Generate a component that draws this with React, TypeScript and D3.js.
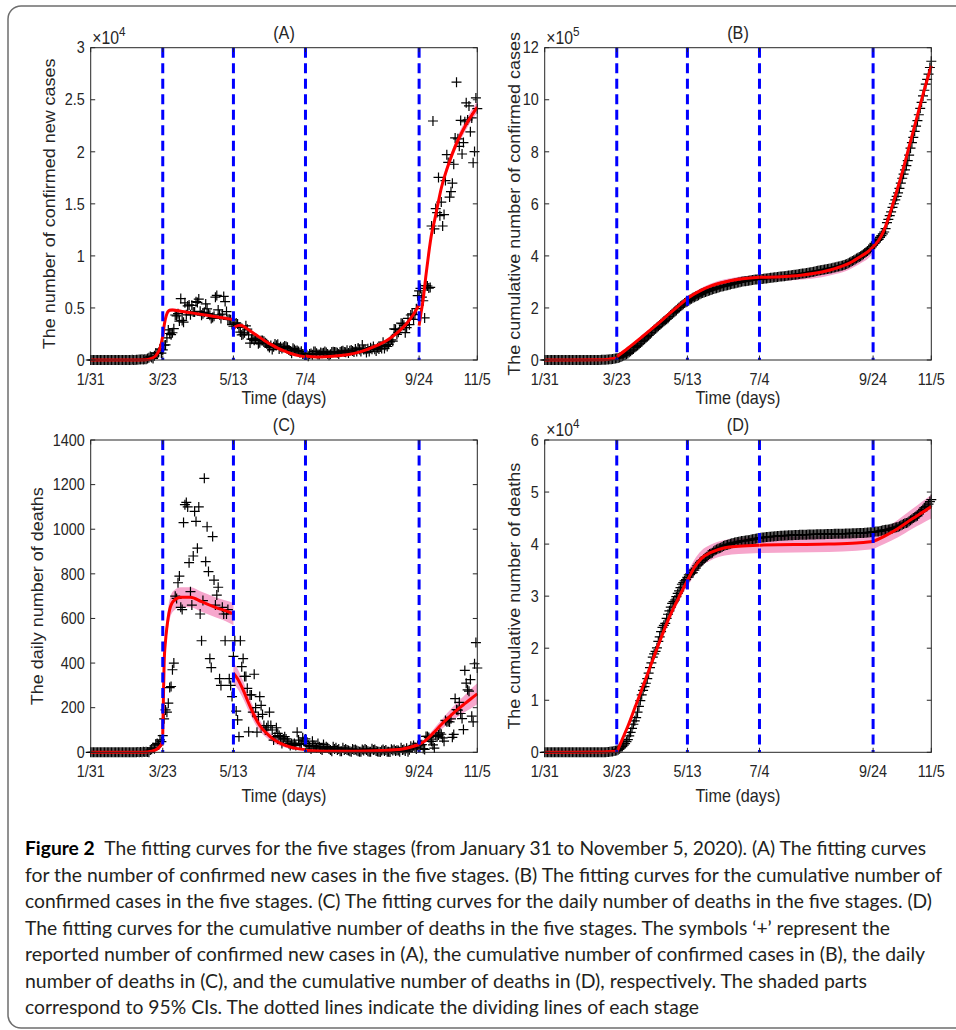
import React from 'react';
import * as d3 from 'd3';

const W = 956;
const H = 1030;
const AX_W = 386.6;
const AX_H = 312.3;
const SQ = 0.9;
const FONT = '"Liberation Sans", Arial, Helvetica, sans-serif';
const INK = '#262626';

const STAGE_DAYS = [52, 103, 155, 237];
const X_TICK_DAYS = [0, 52, 103, 155, 237, 279];
const X_TICK_LABELS = ['1/31', '3/23', '5/13', '7/4', '9/24', '11/5'];

// Reported daily confirmed new cases, day 0 = Jan 31
const dailyCases = [
  2, 0, 0, 0, 0, 0, 1, 0, 0, 0,
  4, 0, 0, 1, 0, 0, 0, 0, 0, 0,
  0, 0, 0, 0, 0, 0, 4, 0, 7, 3,
  13, 4, 11, 34, 29, 48, 45, 69, 43, 67,
  83, 134, 208, 342, 251, 152, 407, 676, 643, 714,
  1035, 665, 967, 1427, 1452, 2129, 2885, 2546, 2433, 2619,
  3009, 4324, 4244, 4450, 3735, 5903, 3802, 3634, 5491, 4344,
  5195, 5288, 4342, 5252, 4603, 4617, 5599, 5526, 5850, 4676,
  4301, 4451, 4583, 5386, 4913, 4463, 4309, 3996, 4076, 4200,
  6032, 6201, 4806, 4339, 3985, 4406, 6111, 5614, 4649, 3896,
  3923, 3877, 3403, 3242, 3446, 3560, 3451, 3142, 2684, 2412,
  2472, 2615, 3287, 2959, 2409, 1625, 2004, 2013, 1887, 2095,
  1936, 1570, 1653, 1871, 1871, 1805, 1650, 1557, 1326, 1205,
  1387, 1003, 1266, 1541, 1425, 1514, 1056, 1279, 1115, 1218,
  1346, 1295, 1221, 958, 874, 653, 1118, 1006, 890, 901,
  815, 689, 829, 576, 544, 624, 516, 352, 581, 630,
  512, 820, 820, 650, 530, 538, 726, 642, 687, 827,
  725, 580, 445, 560, 769, 798, 767, 745, 685, 581,
  763, 846, 880, 771, 744, 938, 670, 892, 950, 871,
  758, 1062, 816, 1148, 1009, 812, 1441, 1012, 1040, 713,
  1089, 812, 1182, 1033, 1288, 1041, 853, 1184, 1048, 1276,
  1108, 1715, 1108, 1406, 1295, 1508, 1735, 1940, 1813, 2988,
  2948, 2460, 2659, 2919, 3539, 3497, 3330, 2621, 3105, 3991,
  3395, 4322, 4422, 3899, 4368, 4926, 6178, 6634, 6874, 6042,
  5693, 4044, 7143, 7108, 6914, 6968, 12872, 22961, 12594, 14542,
  14162, 17540, 13864, 15166, 12872, 13972, 17234, 19724, 18980, 15650,
  16171, 16982, 18804, 21331, 26688, 21242, 20530, 23012, 19790, 20890,
  22885, 24701, 23065, 24405, 21915, 23254, 18950, 20018, 25177, 24141,
];

// Reported daily deaths, day 0 = Jan 31
const dailyDeaths = [
  0, 0, 0, 0, 0, 0, 0, 0, 0, 0,
  0, 0, 0, 0, 0, 0, 0, 0, 0, 0,
  0, 0, 0, 0, 0, 0, 0, 0, 0, 0,
  0, 0, 0, 0, 1, 0, 1, 0, 2, 1,
  2, 1, 0, 10, 14, 20, 16, 33, 40, 33,
  56, 48, 75, 150, 190, 180, 220, 290, 295, 370,
  400, 700, 690, 760, 790, 650, 640, 1030, 1110, 1120,
  1100, 850, 720, 660, 880, 1080, 1035, 915, 1100, 620,
  500, 680, 1228, 855, 1011, 810, 420, 380, 967, 772,
  660, 705, 740, 330, 300, 650, 620, 500, 620, 640,
  330, 300, 250, 430, 500, 185, 145, 70, 500, 384,
  420, 340, 340, 287, 92, 257, 257, 180, 350, 200,
  90, 160, 250, 210, 170, 120, 100, 110, 120, 180,
  120, 100, 55, 70, 110, 85, 75, 65, 40, 60,
  70, 60, 50, 40, 30, 40, 35, 40, 30, 90,
  55, 40, 35, 65, 50, 60, 40, 30, 25, 15,
  50, 30, 25, 20, 40, 25, 15, 10, 35, 20,
  25, 20, 15, 10, 5, 25, 15, 20, 10, 15,
  5, 5, 20, 10, 15, 10, 8, 5, 3, 15,
  10, 12, 8, 5, 3, 2, 12, 8, 15, 10,
  5, 2, 3, 16, 10, 12, 6, 4, 2, 1,
  8, 12, 6, 10, 3, 2, 1, 14, 8, 12,
  6, 9, 8, 3, 20, 10, 12, 6, 18, 3,
  11, 27, 20, 30, 22, 15, 30, 40, 34, 34,
  17, 13, 71, 71, 66, 59, 49, 33, 19, 76,
  70, 77, 87, 81, 65, 50, 143, 137, 138, 136,
  150, 67, 80, 241, 191, 189, 224, 174, 151, 102,
  367, 310, 280, 274, 326, 162, 136, 397, 492, 378,
];

const cumulativeCases = Array.from(d3.cumsum(dailyCases));
const cumulativeDeaths = Array.from(d3.cumsum(dailyDeaths));

type FitPt = [number, number, number, number]; // [day, fit, lower 95%, upper 95%]

const fitCases: FitPt[][] = [
  [[0, 0, 0, 0], [30, 0, 0, 0], [40, 20, 0, 40], [44, 150, 100, 200], [47, 420, 350, 500], [49, 820, 720, 920], [50.5, 1350, 1220, 1480], [52, 2300, 2150, 2450]],
  [[52, 2300, 2150, 2450], [53, 3300, 3150, 3450], [54, 4000, 3850, 4150], [55, 4450, 4300, 4600], [56, 4680, 4530, 4830], [57, 4780, 4620, 4940], [59, 4800, 4640, 4960], [65, 4680, 4530, 4830], [75, 4480, 4330, 4630], [85, 4270, 4120, 4420], [95, 4050, 3900, 4200], [103, 3880, 3700, 4060]],
  [[103, 3000, 2850, 3150], [104, 3150, 3000, 3300], [106, 3300, 3150, 3450], [108, 3330, 3180, 3480], [110, 3250, 3100, 3400], [115, 2800, 2650, 2950], [120, 2350, 2220, 2480], [125, 1900, 1780, 2020], [130, 1500, 1400, 1600], [135, 1150, 1060, 1240], [140, 850, 770, 930], [145, 600, 530, 670], [150, 420, 360, 480], [155, 300, 250, 350]],
  [[155, 380, 320, 440], [160, 320, 270, 370], [165, 300, 250, 350], [175, 350, 300, 400], [185, 500, 440, 560], [195, 800, 730, 870], [205, 1300, 1220, 1380], [215, 2000, 1900, 2100], [222, 2700, 2580, 2820], [228, 3500, 3360, 3640], [233, 4400, 4240, 4560], [237, 5300, 5100, 5500]],
  [[237, 3300, 3100, 3500], [238, 4200, 4000, 4400], [240, 5900, 5650, 6150], [242, 8200, 7900, 8500], [244, 10300, 9950, 10650], [246, 12100, 11750, 12450], [248, 13300, 12950, 13650], [250, 14600, 14250, 14950], [253, 16500, 16100, 16900], [256, 17900, 17500, 18300], [259, 19100, 18700, 19500], [263, 20500, 20050, 20950], [268, 21900, 21400, 22400], [273, 23100, 22600, 23600], [279, 24300, 23750, 24850]],
];

const fitCumCases: FitPt[][] = [
  [[0, 0, 0, 0], [40, 500, 0, 1000], [52, 8000, 4000, 12000]],
  [[52, 12000, 8000, 16000], [60, 45000, 40000, 50000], [70, 88000, 82000, 94000], [80, 132000, 126000, 138000], [90, 178000, 171000, 185000], [103, 237000, 229000, 245000]],
  [[103, 237000, 229000, 245000], [110, 260000, 252000, 268000], [120, 285000, 276000, 294000], [130, 300000, 290000, 310000], [140, 310000, 299000, 320000], [155, 318000, 305000, 327000]],
  [[155, 318000, 305000, 327000], [170, 320000, 305000, 329000], [185, 326000, 308000, 334000], [200, 338000, 318000, 346000], [210, 352000, 330000, 360000], [220, 372000, 348000, 380000], [228, 398000, 372000, 406000], [233, 415000, 388000, 424000], [237, 435000, 410000, 445000]],
  [[237, 435000, 420000, 445000], [241, 460000, 448000, 470000], [245, 500000, 490000, 510000], [249, 560000, 550000, 570000], [253, 630000, 620000, 640000], [258, 720000, 710000, 730000], [263, 820000, 810000, 830000], [268, 920000, 910000, 930000], [273, 1020000, 1010000, 1030000], [279, 1130000, 1120000, 1140000]],
];

const fitDeaths: FitPt[][] = [
  [[0, 0, 0, 0], [38, 0, 0, 2], [44, 5, 2, 10], [48, 15, 8, 22], [51, 35, 25, 45], [52, 48, 38, 58]],
  [[52, 80, 60, 100], [52.5, 250, 220, 280], [53, 400, 360, 440], [54, 500, 460, 540], [55, 560, 520, 600], [57, 640, 595, 685], [60, 680, 635, 725], [65, 695, 650, 740], [72, 695, 650, 740], [80, 675, 630, 720], [90, 650, 605, 695], [100, 628, 580, 676], [103, 620, 570, 670]],
  [[103, 355, 310, 400], [106, 330, 285, 375], [110, 280, 240, 320], [114, 220, 185, 255], [118, 165, 135, 195], [122, 120, 95, 145], [127, 85, 65, 105], [132, 58, 42, 74], [137, 40, 28, 52], [145, 22, 14, 30], [155, 12, 6, 18]],
  [[155, 8, 3, 13], [170, 5, 1, 9], [190, 5, 1, 9], [210, 8, 4, 12], [225, 15, 10, 20], [237, 35, 28, 42]],
  [[237, 35, 28, 42], [241, 50, 40, 60], [245, 72, 58, 86], [249, 98, 80, 116], [254, 130, 108, 152], [259, 160, 133, 187], [264, 188, 156, 220], [269, 213, 176, 250], [274, 238, 195, 281], [279, 262, 215, 309]],
];

const fitCumDeaths: FitPt[][] = [
  [[0, 0, 0, 0], [40, 50, 0, 100], [52, 200, 0, 400]],
  [[52, 0, 0, 200], [56, 2500, 2100, 2900], [60, 5000, 4500, 5500], [65, 8500, 8000, 9000], [70, 12000, 11400, 12600], [75, 15600, 15000, 16200], [80, 19200, 18500, 19900], [85, 22700, 22000, 23400], [90, 26000, 25200, 26800], [95, 28800, 28000, 29600], [100, 31500, 30600, 32400], [103, 33000, 32000, 34000]],
  [[103, 33000, 31800, 34500], [108, 35500, 34000, 37000], [113, 37200, 35700, 38700], [120, 38400, 36900, 39900], [130, 39300, 37800, 40800], [140, 39600, 38100, 41100], [155, 39800, 38300, 41300]],
  [[155, 39800, 38300, 41300], [180, 39900, 38400, 41400], [205, 40000, 38500, 41500], [225, 40200, 38700, 41700], [237, 40500, 39000, 42000]],
  [[237, 40500, 39000, 42000], [245, 41500, 40000, 43000], [255, 43000, 41300, 44700], [265, 44800, 42900, 46700], [272, 46000, 43900, 48100], [279, 47200, 44900, 49500]],
];

const yTicksA = [0, 5000, 10000, 15000, 20000, 25000, 30000];
const yLabelsA = ['0', '0.5', '1', '1.5', '2', '2.5', '3'];
const yTicksB = [0, 200000, 400000, 600000, 800000, 1000000, 1200000];
const yLabelsB = ['0', '2', '4', '6', '8', '10', '12'];
const yTicksC = [0, 200, 400, 600, 800, 1000, 1200, 1400];
const yLabelsC = ['0', '200', '400', '600', '800', '1000', '1200', '1400'];
const yTicksD = [0, 10000, 20000, 30000, 40000, 50000, 60000];
const yLabelsD = ['0', '1', '2', '3', '4', '5', '6'];

const CAPTION_LINES = [
  'The fitting curves for the five stages (from January 31 to November 5, 2020). (A) The fitting curves',
  'for the number of confirmed new cases in the five stages. (B) The fitting curves for the cumulative number of',
  'confirmed cases in the five stages. (C) The fitting curves for the daily number of deaths in the five stages. (D)',
  'The fitting curves for the cumulative number of deaths in the five stages. The symbols \u2018+\u2019 represent the',
  'reported number of confirmed new cases in (A), the cumulative number of confirmed cases in (B), the daily',
  'number of deaths in (C), and the cumulative number of deaths in (D), respectively. The shaded parts',
  'correspond to 95% CIs. The dotted lines indicate the dividing lines of each stage',
];
const CAPTION_ENDS = [926, 942, 932, 890, 925, 867, 699];

function HText(props: { x: number; y: number; anchor?: string; size?: number; children: React.ReactNode }) {
  const { x, y, anchor = 'middle', size = 16, children } = props;
  return (
    <text
      transform={`translate(${x},${y}) scale(${SQ},1)`}
      textAnchor={anchor}
      fontSize={size}
      fontFamily={FONT}
      fill={INK}
    >
      {children}
    </text>
  );
}

interface PanelProps {
  left: number;
  top: number;
  title: string;
  yLabel: string;
  yLabelDx: number;
  xLabelDy: number;
  yMax: number;
  yTicks: number[];
  yTickLabels: string[];
  exponent?: string;
  values: number[];
  fit: FitPt[][];
}

function Panel(p: PanelProps) {
  const bottom = p.top + AX_H;
  const right = p.left + AX_W;
  const x = d3.scaleLinear().domain([0, 279]).range([p.left, right]);
  const y = d3.scaleLinear().domain([0, p.yMax]).range([bottom, p.top]);
  const line = d3
    .line<FitPt>()
    .x((d) => x(d[0]))
    .y((d) => y(d[1]))
    .curve(d3.curveMonotoneX);
  const area = d3
    .area<FitPt>()
    .x((d) => x(d[0]))
    .y0((d) => y(d[2]))
    .y1((d) => y(d[3]))
    .curve(d3.curveMonotoneX);
  const tl = 4.5;
  const cx = (p.left + right) / 2;
  const cy = (p.top + bottom) / 2;
  return (
    <g>
      {p.fit.map((seg, i) => (
        <path key={'band' + i} d={area(seg) || ''} fill="#f6a6cc" stroke="none" />
      ))}
      <g stroke="#000" strokeWidth={1.2} fill="none">
        {p.values.map((v, i) => {
          const px = x(i);
          const py = y(v);
          return <path key={i} d={`M${px - 5},${py}h10M${px},${py - 5}v10`} />;
        })}
      </g>
      {p.fit.map((seg, i) => (
        <path
          key={'fit' + i}
          d={line(seg) || ''}
          fill="none"
          stroke="#ff0000"
          strokeWidth={3}
          strokeLinejoin="round"
        />
      ))}
      {STAGE_DAYS.map((d) => (
        <line
          key={'st' + d}
          x1={x(d)}
          x2={x(d)}
          y1={p.top}
          y2={bottom}
          stroke="#0000ff"
          strokeWidth={3}
          strokeDasharray="10 5.5"
        />
      ))}
      <rect x={p.left} y={p.top} width={AX_W} height={AX_H} fill="none" stroke={INK} strokeWidth={1} />
      <g stroke={INK} strokeWidth={1}>
        {X_TICK_DAYS.map((d) => (
          <g key={'xt' + d}>
            <line x1={x(d)} x2={x(d)} y1={bottom} y2={bottom - tl} />
            <line x1={x(d)} x2={x(d)} y1={p.top} y2={p.top + tl} />
          </g>
        ))}
        {p.yTicks.map((t) => (
          <g key={'yt' + t}>
            <line x1={p.left} x2={p.left + tl} y1={y(t)} y2={y(t)} />
            <line x1={right} x2={right - tl} y1={y(t)} y2={y(t)} />
          </g>
        ))}
      </g>
      {X_TICK_DAYS.map((d, i) => (
        <HText key={'xl' + d} x={x(d)} y={bottom + 25}>
          {X_TICK_LABELS[i]}
        </HText>
      ))}
      {p.yTicks.map((t, i) => (
        <HText key={'yl' + t} x={p.left - 6} y={y(t) + 5.7} anchor="end">
          {p.yTickLabels[i]}
        </HText>
      ))}
      <HText x={cx} y={bottom + p.xLabelDy} size={18}>
        Time (days)
      </HText>
      <HText x={cx} y={p.top - 9} size={18}>
        {p.title}
      </HText>
      <text
        transform={`translate(${p.left + p.yLabelDx + 6},${cy}) rotate(-90) scale(1,${SQ})`}
        textAnchor="middle"
        fontSize={18}
        fontFamily={FONT}
        fill={INK}
      >
        {p.yLabel}
      </text>
      {p.exponent && (
        <text
          transform={`translate(${p.left + 1.5},${p.top - 4}) scale(${SQ},1)`}
          fontSize={17.5}
          fontFamily={FONT}
          fill={INK}
        >
          {'\u00d710'}
          <tspan fontSize={13} dy={-8}>
            {p.exponent}
          </tspan>
        </text>
      )}
    </g>
  );
}

export default function App() {
  const capX = 25;
  const capY0 = 855;
  const capDy = 26.5;
  return (
    <svg
      width={W}
      height={H}
      viewBox={`0 0 ${W} ${H}`}
      style={{ position: 'absolute', left: 0, top: 0, background: '#fff' }}
    >
      <rect x={0} y={0} width={W} height={H} fill="#fff" />
      <rect x={8} y={6} width={970} height={1022} rx={13} ry={13} fill="none" stroke="#6e6e6e" strokeWidth={1.5} />
      <Panel
        left={90.7}
        top={47.7}
        title="(A)"
        yLabel="The number of confirmed new cases"
        yLabelDx={-41.7}
        xLabelDy={43.5}
        yMax={30000}
        yTicks={yTicksA}
        yTickLabels={yLabelsA}
        exponent="4"
        values={dailyCases}
        fit={fitCases}
      />
      <Panel
        left={544.7}
        top={47.7}
        title="(B)"
        yLabel="The cumulative number of confirmed cases"
        yLabelDx={-30.7}
        xLabelDy={43.5}
        yMax={1200000}
        yTicks={yTicksB}
        yTickLabels={yLabelsB}
        exponent="5"
        values={cumulativeCases}
        fit={fitCumCases}
      />
      <Panel
        left={90.7}
        top={440}
        title="(C)"
        yLabel="The daily number of deaths"
        yLabelDx={-53.7}
        xLabelDy={49.7}
        yMax={1400}
        yTicks={yTicksC}
        yTickLabels={yLabelsC}
        values={dailyDeaths}
        fit={fitDeaths}
      />
      <Panel
        left={544.7}
        top={440}
        title="(D)"
        yLabel="The cumulative number of deaths"
        yLabelDx={-30.7}
        xLabelDy={49.7}
        yMax={60000}
        yTicks={yTicksD}
        yTickLabels={yLabelsD}
        exponent="4"
        values={cumulativeDeaths}
        fit={fitCumDeaths}
      />
      {CAPTION_LINES.map((t, i) => (
        <text
          key={'cap' + i}
          x={capX}
          y={capY0 + i * capDy}
          fontSize={19}
          fontFamily='Lato, "Open Sans", "Noto Sans", sans-serif'
          fill="#231f20"
          textLength={CAPTION_ENDS[i] - capX}
          lengthAdjust="spacingAndGlyphs"
        >
          {i === 0 && (
            <tspan fontWeight={700} fill="#000">
              {'Figure 2\u2002'}
            </tspan>
          )}
          {t}
        </text>
      ))}
    </svg>
  );
}
